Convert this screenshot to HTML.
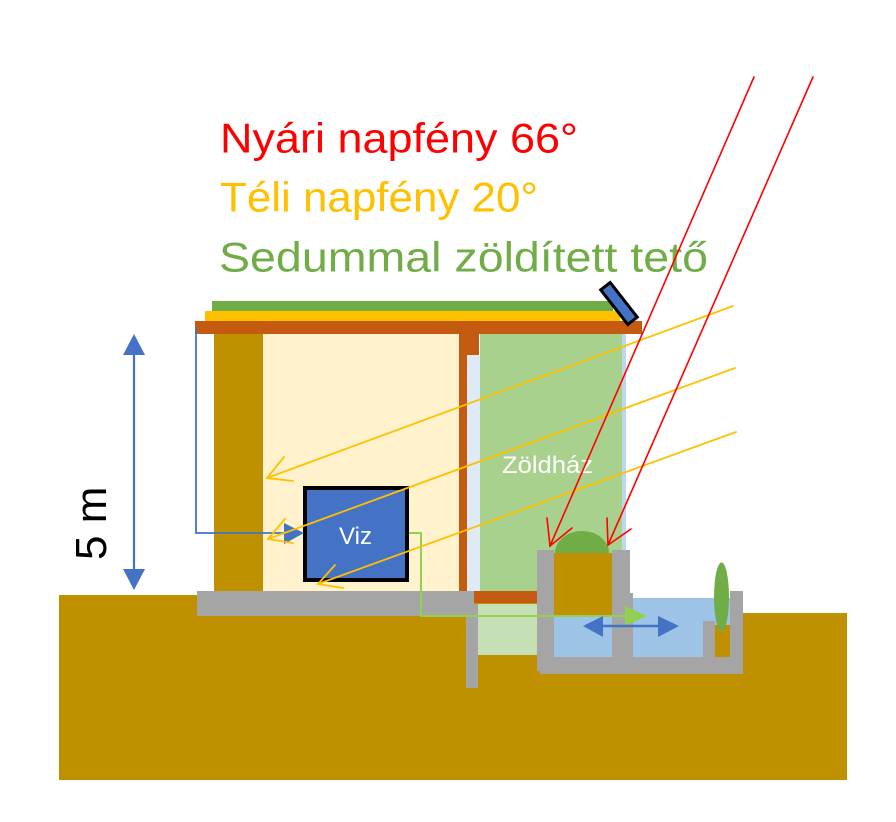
<!DOCTYPE html>
<html>
<head>
<meta charset="utf-8">
<style>
html,body{margin:0;padding:0;background:#fff;}
svg{display:block;}
text{font-family:"Liberation Sans",Arial,sans-serif;}
</style>
</head>
<body>
<svg width="896" height="822" viewBox="0 0 896 822" xmlns="http://www.w3.org/2000/svg">
  <!-- Title text -->
  <text x="220" y="152.5" font-size="42" fill="#ff0000" textLength="358" lengthAdjust="spacingAndGlyphs">Nyári napfény 66°</text>
  <text x="220" y="211.5" font-size="42" fill="#ffc000" textLength="318" lengthAdjust="spacingAndGlyphs">Téli napfény 20°</text>
  <text x="219" y="271.5" font-size="42" fill="#70ad47" textLength="489" lengthAdjust="spacingAndGlyphs">Sedummal zöldített tető</text>

  <!-- Ground -->
  <rect x="59" y="595" width="478" height="185" fill="#bf9000"/>
  <rect x="537" y="657" width="310" height="123" fill="#bf9000"/>
  <rect x="743" y="613" width="104" height="167" fill="#bf9000"/>

  <!-- Roof layers -->
  <rect x="212" y="301" width="401" height="10" fill="#70ad47"/>
  <rect x="205" y="311" width="415" height="10" fill="#ffc000"/>
  <rect x="195" y="321" width="447" height="13" fill="#c55a11"/>

  <!-- House interior -->
  <rect x="263" y="334" width="196" height="257" fill="#fff2cc"/>
  <rect x="214" y="334" width="49" height="257" fill="#bf9000"/>

  <!-- Wall between house and greenhouse -->
  <rect x="459" y="334" width="8" height="257" fill="#c55a11"/>
  <rect x="459" y="334" width="20" height="21" fill="#c55a11"/>
  <rect x="467" y="355" width="13" height="236" fill="#deebf7"/>

  <!-- Greenhouse -->
  <rect x="480" y="334" width="142" height="257" fill="#a9d18e"/>
  <rect x="622" y="334" width="4" height="216" fill="#bdd7ee"/>
  <text x="502" y="473" font-size="24" fill="#ffffff" textLength="91" lengthAdjust="spacingAndGlyphs">Zöldház</text>

  <!-- Floor -->
  <rect x="197" y="591" width="277" height="25" fill="#a5a5a5"/>
  <rect x="474" y="591" width="63" height="12" fill="#c55a11"/>
  <rect x="478" y="604" width="59" height="51" fill="#c5e0b4"/>
  <rect x="466" y="604" width="12" height="84" fill="#a5a5a5"/>

  <!-- Basin / water -->
  <rect x="554" y="598" width="176" height="59" fill="#9dc3e6"/>
  <rect x="554" y="550" width="76" height="48" fill="#ffffff" opacity="0"/>
  <rect x="537" y="550" width="17" height="121" fill="#a5a5a5"/>
  <rect x="540" y="657" width="203" height="17" fill="#a5a5a5"/>
  <rect x="612" y="550" width="18" height="107" fill="#a5a5a5"/>
  <rect x="630" y="593" width="3" height="64" fill="#a5a5a5"/>
  <rect x="703" y="621" width="12" height="36" fill="#a5a5a5"/>
  <rect x="715" y="625" width="15" height="32" fill="#bf9000"/>
  <rect x="730" y="591" width="13" height="83" fill="#a5a5a5"/>

  <!-- Shrub and soil box -->
  <ellipse cx="582" cy="553" rx="27" ry="22" fill="#70ad47"/>
  <rect x="554" y="553" width="58" height="63" fill="#bf9000"/>

  <!-- Plant -->
  <ellipse cx="721.5" cy="597" rx="7.5" ry="34.5" fill="#70ad47"/>

  <!-- Green pipe -->
  <polyline points="409,533 421,533 421,616 626,616" fill="none" stroke="#92d050" stroke-width="2"/>
  <polygon points="625,606 647,616 625,626" fill="#92d050"/>

  <!-- Blue double arrow -->
  <line x1="602" y1="626" x2="659" y2="626" stroke="#4472c4" stroke-width="2.5"/>
  <polygon points="583,626 603,616 603,637" fill="#4472c4"/>
  <polygon points="679,626 658,616 658,637" fill="#4472c4"/>

  <!-- Viz box -->
  <rect x="305" y="488" width="102" height="92" fill="#4472c4" stroke="#000" stroke-width="4"/>
  <text x="339" y="544" font-size="24" fill="#ffffff" textLength="33" lengthAdjust="spacingAndGlyphs">Viz</text>

  <!-- Blue pipe line -->
  <polyline points="196,327 196,533 286,533" fill="none" stroke="#4472c4" stroke-width="1.8"/>
  <polygon points="284,523 304,533 284,544" fill="#4472c4"/>

  <!-- Solar panel -->
  <rect x="-22" y="-6" width="44" height="12" fill="#4472c4" stroke="#000" stroke-width="3" transform="translate(619,303.5) rotate(52)"/>

  <!-- Winter sun (yellow) -->
  <g stroke="#ffc000" stroke-width="1.8" fill="none" stroke-linecap="round">
    <line x1="733" y1="306" x2="267" y2="478"/>
    <polyline points="284,457 267,478 293,481"/>
    <line x1="735" y1="368" x2="268" y2="539"/>
    <polyline points="285,519 268,539 293,543"/>
    <line x1="736" y1="432" x2="318" y2="584"/>
    <polyline points="335,565 318,584 343,588"/>
  </g>

  <!-- Summer sun (red) -->
  <g stroke="#ff0000" stroke-width="1.6" fill="none" stroke-linecap="round">
    <line x1="754" y1="77" x2="550" y2="546"/>
    <polyline points="547,518 550,546 572,528"/>
    <line x1="813" y1="77" x2="608" y2="545"/>
    <polyline points="607,518 608,545 631,529"/>
  </g>

  <!-- Dimension arrow -->
  <line x1="134" y1="352" x2="134" y2="572" stroke="#4472c4" stroke-width="2.2"/>
  <polygon points="134,334 123,355 145,355" fill="#4472c4"/>
  <polygon points="134,590 123,569 145,569" fill="#4472c4"/>
  <text transform="translate(106,560) rotate(-90)" font-size="44" fill="#000">5 m</text>
</svg>
</body>
</html>
